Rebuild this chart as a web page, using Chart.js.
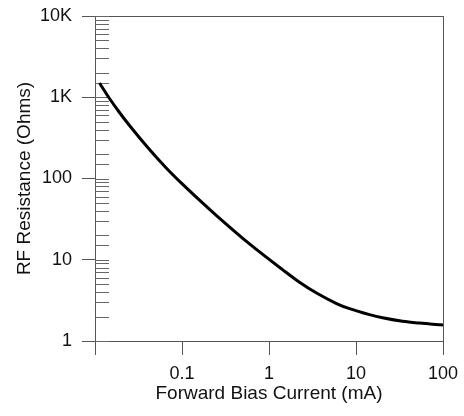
<!DOCTYPE html>
<html>
<head>
<meta charset="utf-8">
<title>RF Resistance vs Forward Bias Current</title>
<script src="https://cdn.jsdelivr.net/npm/chart.js@4.4.1/dist/chart.umd.min.js"></script>
<style>
  html, body { margin: 0; padding: 0; background: #fff; }
  canvas { display: block; }
</style>
</head>
<body>
<canvas id="grafico" width="464" height="416"></canvas>
<script>
// valores (escala log-log)
const correnteMA = [0.01126, 0.01468, 0.01912, 0.02492, 0.0423, 0.0663, 0.1013, 0.1589, 0.2492, 0.597,
                    1.43, 2.24, 3.52, 5.97, 8.42, 14.3, 20.2, 34.2, 53.7, 100];
const resistenciaOhm = [1498, 965, 649, 449, 227.5, 133.9, 85.1, 54.1, 35.0, 15.67,
                        7.56, 5.29, 3.89, 2.89, 2.50, 2.11, 1.93, 1.75, 1.66, 1.57];

const xTickValues = [0.1, 1, 10, 100];
const xTickLabels = ['0.1', '1', '10', '100'];
const yTickValues = [1, 10, 100, 1000, 10000];
const yTickLabels = ['1', '10', '100', '1K', '10K'];

const FONTE = '"Liberation Sans", Arial, Helvetica, sans-serif';
const COR_EIXO = '#555';

function ehDecada(v) {
  const l = Math.log10(v);
  return Math.abs(l - Math.round(l)) < 1e-6;
}
function rotulo(v, valores, rotulos) {
  const i = valores.findIndex(t => Math.abs(t - v) / t < 1e-6);
  return i >= 0 ? rotulos[i] : '';
}

// tracinhos internos do eixo Y (todas as divisões, para dentro da área)
const ticksInternos = {
  id: 'ticksInternos',
  beforeDatasetsDraw(chart) {
    const y = chart.scales.y;
    const { left } = chart.chartArea;
    const c = chart.ctx;
    c.save();
    c.strokeStyle = '#666';
    c.lineWidth = 1;
    y.ticks.forEach(t => {
      const py = Math.round(y.getPixelForValue(t.value)) + 0.5;
      c.beginPath();
      c.moveTo(left, py);
      c.lineTo(left + 14, py);
      c.stroke();
    });
    c.restore();
  }
};

new Chart(document.getElementById('grafico'), {
  type: 'line',
  data: {
    datasets: [{
      data: correnteMA.map((x, i) => ({ x, y: resistenciaOhm[i] })),
      borderColor: '#000',
      borderWidth: 3,
      pointRadius: 0,
      fill: false,
      cubicInterpolationMode: 'monotone'
    }]
  },
  options: {
    responsive: false,
    animation: false,
    layout: { padding: { top: 16, right: 21, left: 0, bottom: 0 } },
    plugins: { legend: { display: false }, tooltip: { enabled: false } },
    scales: {
      x: {
        type: 'logarithmic',
        min: 0.01, max: 100,
        // tamanho fixo e sem folga extra dos rótulos
        afterFit: s => { s.height = 75; s.paddingLeft = 0; s.paddingRight = 0; },
        border: { display: true, color: COR_EIXO, width: 1 },
        grid: {
          drawOnChartArea: true,
          drawTicks: true,
          tickLength: 14,
          color: ctx => (ctx.tick && Math.abs(ctx.tick.value - 100) < 1e-6) ? COR_EIXO : 'rgba(0,0,0,0)',
          tickColor: ctx => (ctx.tick && ehDecada(ctx.tick.value)) ? COR_EIXO : 'rgba(0,0,0,0)'
        },
        ticks: {
          autoSkip: false,
          maxRotation: 0,
          padding: 8,
          color: '#111',
          font: { family: FONTE, size: 18 },
          callback: v => rotulo(v, xTickValues, xTickLabels)
        },
        title: {
          display: true,
          text: 'Forward Bias Current (mA)',
          color: '#111',
          font: { family: FONTE, size: 19 },
          padding: { top: 0, bottom: 11 }
        }
      },
      y: {
        type: 'logarithmic',
        min: 1, max: 10000,
        afterFit: s => { s.width = 95; s.paddingTop = 0; s.paddingBottom = 0; },
        border: { display: true, color: COR_EIXO, width: 1 },
        grid: {
          drawOnChartArea: true,
          drawTicks: true,
          tickLength: 13,
          color: ctx => (ctx.tick && Math.abs(ctx.tick.value - 10000) < 1e-3) ? COR_EIXO : 'rgba(0,0,0,0)',
          tickColor: ctx => (ctx.tick && ehDecada(ctx.tick.value)) ? COR_EIXO : 'rgba(0,0,0,0)'
        },
        ticks: {
          autoSkip: false,
          padding: 10,
          color: '#111',
          font: { family: FONTE, size: 18 },
          callback: v => rotulo(v, yTickValues, yTickLabels)
        },
        title: {
          display: true,
          text: 'RF Resistance (Ohms)',
          color: '#111',
          font: { family: FONTE, size: 19 },
          padding: { top: 13, bottom: 0 }
        }
      }
    }
  },
  plugins: [ticksInternos]
});
</script>
</body>
</html>
